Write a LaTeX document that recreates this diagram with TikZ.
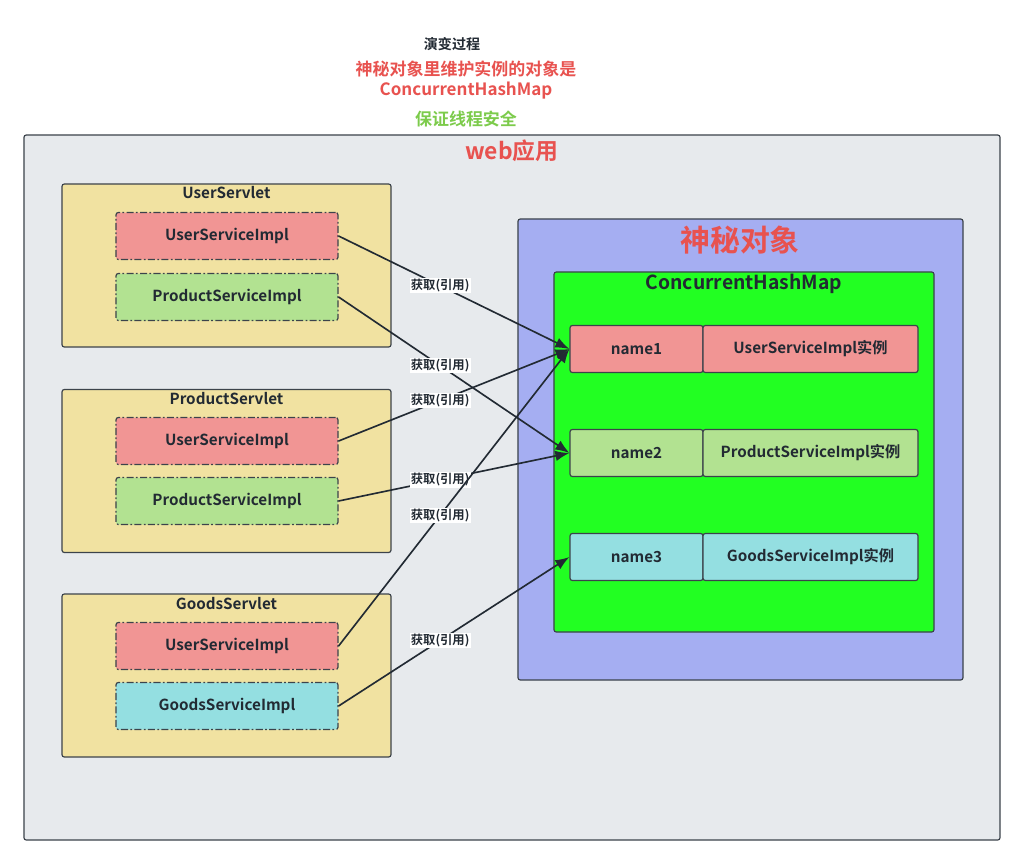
\documentclass[tikz,border=0pt]{standalone}
\usepackage{fontspec}
\setmainfont{Noto Sans CJK SC}[BoldFont={* Bold}]
\usetikzlibrary{arrows.meta}
\definecolor{bordc}{HTML}{3C434B}
\definecolor{txtc}{HTML}{222A33}
\definecolor{webc}{HTML}{E7EAED}
\definecolor{servc}{HTML}{F1E2A1}
\definecolor{userc}{HTML}{F19594}
\definecolor{prodc}{HTML}{B2E291}
\definecolor{goodc}{HTML}{94DFE1}
\definecolor{mystc}{HTML}{A5AEF2}
\definecolor{mapc}{HTML}{22FF22}
\definecolor{redc}{HTML}{E8524F}
\definecolor{greenc}{HTML}{7CCB4B}
\tikzset{
  box/.style={draw=bordc, rounded corners=2pt, line width=1pt, inner sep=0pt},
  servlet/.style={box, fill=servc, minimum width=9.87cm, minimum height=4.89cm},
  impl/.style={box, dash pattern=on 6pt off 2pt on 1.5pt off 2pt, minimum width=6.66cm, minimum height=1.41cm,
    font=\bfseries\fontsize{13}{15}\selectfont, text=txtc},
  keycell/.style={box, minimum width=3.99cm, minimum height=1.41cm, font=\bfseries\fontsize{13}{15}\selectfont, text=txtc},
  valcell/.style={box, minimum width=6.45cm, minimum height=1.41cm, font=\bfseries\fontsize{13}{15}\selectfont, text=txtc},
  head/.style={font=\bfseries\fontsize{13}{15}\selectfont, text=txtc},
  ref/.style={-{Latex[length=12pt,width=9pt]}, line width=1.4pt, draw=txtc},
  lbl/.style={fill=white, inner sep=1pt, font=\bfseries\fontsize{10.5}{12}\selectfont, text=txtc}}
\begin{document}
\begin{tikzpicture}[x=0.03cm, y=-0.03cm]
\useasboundingbox[fill=white] (0,0) rectangle (1024,864);
\node (step) at (452,44) [font=\bfseries\fontsize{12}{14}\selectfont, text=txtc] {演变过程};
\node (note) at (466,80) [align=center, font=\bfseries\fontsize{14.5}{17}\selectfont, text=redc] {神秘对象里维护实例的对象是\\ConcurrentHashMap};
\node (safe) at (466,119) [font=\bfseries\fontsize{14.5}{16}\selectfont, text=greenc] {保证线程安全};

\node (web) at (512,487.5) [box, fill=webc, minimum width=29.28cm, minimum height=21.15cm] {};
\node (webtitle) at (512,151) [font=\bfseries\fontsize{19.5}{22}\selectfont, text=redc] {web应用};

\node (us) at (226.5,265.5) [servlet] {};
\node (ust) at (226.5,193) [head] {UserServlet};
\node (us1) at (227,236) [impl, fill=userc] {UserServiceImpl};
\node (us2) at (227,297) [impl, fill=prodc] {ProductServiceImpl};

\node (ps) at (226.5,471) [servlet] {};
\node (pst) at (226.5,399) [head] {ProductServlet};
\node (ps1) at (227,441) [impl, fill=userc] {UserServiceImpl};
\node (ps2) at (227,501) [impl, fill=prodc] {ProductServiceImpl};

\node (gs) at (226.5,675.5) [servlet] {};
\node (gst) at (226.5,604) [head] {GoodsServlet};
\node (gs1) at (227,646) [impl, fill=userc] {UserServiceImpl};
\node (gs2) at (227,706) [impl, fill=goodc] {GoodsServiceImpl};

\node (myst) at (740.5,449.5) [box, fill=mystc, minimum width=13.35cm, minimum height=13.83cm] {};
\node (mysttitle) at (740,240) [font=\bfseries\fontsize{25.5}{28}\selectfont, text=redc] {神秘对象};
\node (map) at (744,452) [box, fill=mapc, minimum width=11.4cm, minimum height=10.8cm] {};
\node (maptitle) at (744,284) [font=\bfseries\fontsize{16.5}{18}\selectfont, text=txtc] {ConcurrentHashMap};

\node (n1) at (636.5,349) [keycell, fill=userc] {name1};
\node (v1) at (810.5,349) [valcell, fill=userc] {UserServiceImpl实例};
\node (n2) at (636.5,453) [keycell, fill=prodc] {name2};
\node (v2) at (810.5,453) [valcell, fill=prodc] {ProductServiceImpl实例};
\node (n3) at (636.5,557) [keycell, fill=goodc] {name3};
\node (v3) at (810.5,557) [valcell, fill=goodc] {GoodsServiceImpl实例};

\draw[ref] (us1.east) -- node[lbl, pos=0.44] (l1) {获取(引用)} (n1.west);
\draw[ref] (us2.east) -- node[lbl, pos=0.44] (l2) {获取(引用)} (n2.west);
\draw[ref] (ps1.east) -- node[lbl, pos=0.44] (l3) {获取(引用)} (n1.west);
\draw[ref] (ps2.east) -- node[lbl, pos=0.44] (l4) {获取(引用)} (n2.west);
\draw[ref] (gs1.east) -- node[lbl, pos=0.44] (l5) {获取(引用)} (n1.west);
\draw[ref] (gs2.east) -- node[lbl, pos=0.44] (l6) {获取(引用)} (n3.west);
\end{tikzpicture}
\end{document}
